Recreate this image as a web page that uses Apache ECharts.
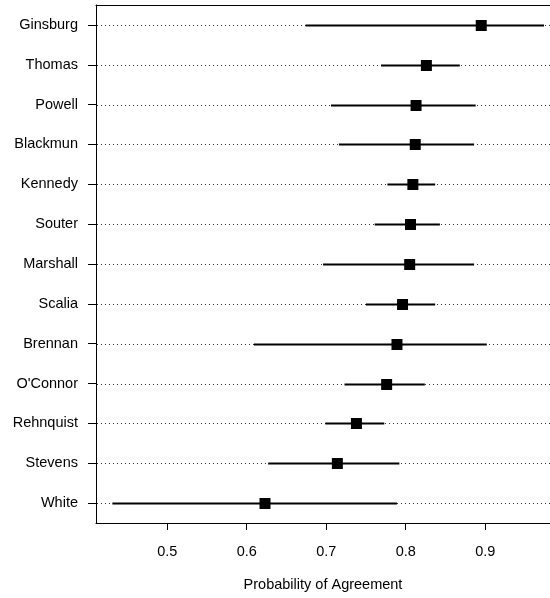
<!DOCTYPE html>
<html>
<head>
<meta charset="utf-8">
<script src="https://cdn.jsdelivr.net/npm/echarts@6/dist/echarts.min.js"></script>
<style>
html,body{margin:0;padding:0;background:#fff;}
#chart{width:550px;height:598px;}
</style>
</head>
<body>
<div id="chart"></div>
<script>
const justices = ['Ginsburg','Thomas','Powell','Blackmun','Kennedy','Souter','Marshall','Scalia','Brennan',"O'Connor",'Rehnquist','Stevens','White'];
const estimate = [0.895,0.826,0.813,0.812,0.809,0.806,0.805,0.796,0.789,0.776,0.738,0.714,0.623];
const lower    = [0.674,0.769,0.706,0.716,0.777,0.761,0.696,0.750,0.609,0.723,0.699,0.627,0.431];
const upper    = [0.974,0.868,0.888,0.886,0.837,0.843,0.886,0.837,0.902,0.824,0.773,0.792,0.789];
const xTicks   = [0.5,0.6,0.7,0.8,0.9];
const xTitle   = 'Probability of Agreement';

const FONT = "'Liberation Sans', Arial, Helvetica, sans-serif";
const X_MIN = 0.4104, X_MAX = 0.9815;
const data = justices.map((j, i) => [i, lower[i], estimate[i], upper[i]]);

const chart = echarts.init(document.getElementById('chart'), null, {renderer: 'canvas'});
chart.setOption({
  animation: false,
  backgroundColor: '#fff',
  grid: {left: 96, right: 0, top: 5, bottom: 75, show: false, containLabel: false},
  xAxis: [{
    type: 'value', min: X_MIN, max: X_MAX, position: 'bottom',
    axisLine: {show: true, onZero: false, lineStyle: {color: '#000', width: 1}},
    splitLine: {show: false},
    axisTick: {show: true, length: 7, inside: false, customValues: xTicks, lineStyle: {color: '#000', width: 1}},
    axisLabel: {customValues: xTicks, margin: 21, fontSize: 14.5, fontFamily: FONT, color: '#000', formatter: v => String(v)},
    name: xTitle, nameLocation: 'middle', nameGap: 54,
    nameTextStyle: {fontSize: 14.5, fontFamily: FONT, color: '#000'}
  }, {
    type: 'value', min: X_MIN, max: X_MAX, position: 'top',
    axisLine: {show: true, onZero: false, lineStyle: {color: '#000', width: 1}},
    splitLine: {show: false}, axisTick: {show: false}, axisLabel: {show: false}
  }],
  yAxis: {
    type: 'category', data: justices, inverse: true,
    axisLine: {show: true, lineStyle: {color: '#000', width: 1}},
    splitLine: {show: false},
    axisTick: {show: true, alignWithLabel: true, length: 8, lineStyle: {color: '#000', width: 1}},
    axisLabel: {margin: 18, fontSize: 14.5, fontFamily: FONT, color: '#000'}
  },
  series: [{
    type: 'custom',
    coordinateSystem: 'cartesian2d',
    xAxisIndex: 0,
    encode: {y: 0, x: [1, 2, 3]},
    clip: false,
    data: data,
    renderItem: function (params, api) {
      const idx = api.value(0);
      const lo = api.coord([api.value(1), idx]);
      const mid = api.coord([api.value(2), idx]);
      const hi = api.coord([api.value(3), idx]);
      const cs = params.coordSys;
      const y = Math.round(mid[1]) + 0.5;
      const s = 11;
      return {
        type: 'group',
        children: [
          {type: 'line', shape: {x1: cs.x + 1, y1: y, x2: cs.x + cs.width, y2: y},
            style: {stroke: '#333', lineWidth: 1, lineDash: [1, 3]}},
          {type: 'line', shape: {x1: lo[0], y1: y, x2: hi[0], y2: y},
            style: {stroke: '#000', lineWidth: 2}},
          {type: 'rect', shape: {x: mid[0] - s / 2, y: y - s / 2, width: s, height: s},
            style: {fill: '#000'}}
        ]
      };
    }
  }]
});
</script>
</body>
</html>
